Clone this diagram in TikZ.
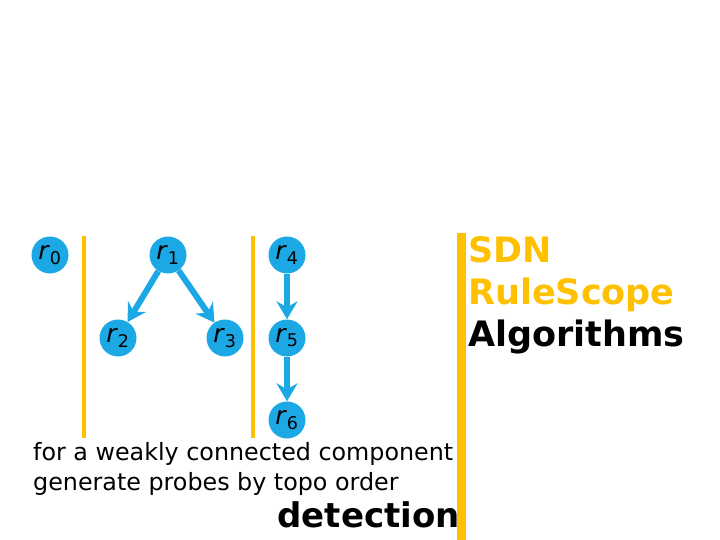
\documentclass[tikz,border=0pt]{standalone}
\usepackage{fontspec}
\setmainfont{DejaVu Sans}
\usetikzlibrary{arrows.meta,positioning}
\definecolor{ruleblue}{RGB}{28,168,228}
\definecolor{rulegold}{RGB}{255,192,0}
\tikzset{
  rulenode/.style={
    circle, fill=ruleblue, minimum size=37pt, inner sep=0pt,
    font=\fontsize{25}{25}\selectfont
  },
  probe/.style={
    ruleblue, line width=6pt,
    -{Stealth[length=18pt,width=21pt,inset=6pt]}
  }
}

\begin{document}
\begin{tikzpicture}[x=1pt, y=-1pt, every node/.style={inner sep=0pt}]
  \useasboundingbox (0,0) rectangle (720,540);

  % Separators between components
  \draw[rulegold,line width=4.5pt] (84,236) -- (84,438);
  \draw[rulegold,line width=4.5pt] (253,236) -- (253,438);
  \draw[rulegold,line width=9pt] (461,233) -- (461,540);

  % Rules
  \foreach \n/\x/\y in {
  0/50/255,
  1/168/255,
  2/118/338,
  3/225/338,
  4/287/255,
  5/287/338,
  6/287/420
  } {
    \node[rulenode] (r\n) at (\x,\y) {\textit{r}\textsubscript{\n}};
  }

  % Dependencies
  \draw[probe] (r1) -- (r2);
  \draw[probe] (r1) -- (r3);
  \draw[probe] (r4) -- (r5);
  \draw[probe] (r5) -- (r6);

  % Caption
  \node[anchor=base west, font=\fontsize{23.8}{30}\selectfont] (wcc) at (33,460) {for a weakly connected component};
  \node[anchor=base west, font=\fontsize{23.8}{30}\selectfont] (topo) at (33,490) {generate probes by topo order};
  \node[anchor=base east, font=\bfseries\fontsize{34}{40}\selectfont] (detect) at (460,527) {detection};

  % Title
  \node[anchor=base west, text=rulegold, font=\bfseries\fontsize{35}{42}\selectfont] (sdn) at (468,262) {SDN};
  \node[anchor=base west, text=rulegold, font=\bfseries\fontsize{35}{42}\selectfont] (scope) at (468,304) {RuleScope};
  \node[anchor=base west, font=\bfseries\fontsize{35}{42}\selectfont] (algo) at (468,346) {Algorithms};
\end{tikzpicture}
\end{document}
